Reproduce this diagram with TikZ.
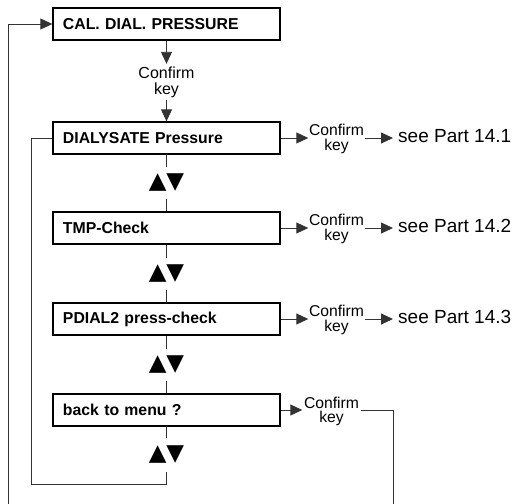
\documentclass[tikz,border=0pt]{standalone}
\usepackage{fontspec}
\setmainfont{Liberation Sans}
\newfontfamily\symfont{DejaVu Sans}
\usetikzlibrary{arrows.meta}
\begin{document}
\begin{tikzpicture}[x=1pt,y=-1pt,
  box/.style={draw=black, line width=1.3pt, minimum height=32pt, text width=207pt,
    inner xsep=10pt, align=left, font=\fontsize{15.8}{18}\selectfont\bfseries},
  conn/.style={draw=black!80, line width=0.9pt},
  arr/.style={conn, -{Triangle[length=12pt,width=11pt]}},
  ck/.style={align=center, inner xsep=0.5pt, inner ysep=0pt, font=\fontsize{15.7}{14.5}\selectfont},
  seep/.style={anchor=base west, inner xsep=5pt, inner ysep=0pt, font=\fontsize{19}{22}\selectfont},
  ud/.style={minimum height=32pt, inner sep=0pt, font=\symfont\fontsize{23}{26}\selectfont}]
\useasboundingbox (0,0) rectangle (515,504);

% boxes
\node[box] (b1) at (166.5,24) {CAL. DIAL. PRESSURE};
\node[box] (b2) at (166.5,138) {DIALYSATE Pressure};
\node[box] (b3) at (166.5,228) {TMP-Check};
\node[box] (b4) at (166.5,319) {PDIAL2 press-check};
\node[box] (b5) at (166.5,410) {back to menu ?};

% up/down symbols
\node[ud] (ud1) at (166.5,183) {▲▼};
\node[ud] (ud2) at (166.5,274) {▲▼};
\node[ud] (ud3) at (166.5,365) {▲▼};
\node[ud, minimum height=34pt] (ud4) at (166.5,455) {▲▼};

% confirm keys
\node[ck, inner ysep=2.5pt, font=\fontsize{16}{16}\selectfont] (c0) at (166.5,82) {Confirm\\key};
\node[ck] (c2) at (336.5,139) {Confirm\\key};
\node[ck] (c3) at (336.5,229) {Confirm\\key};
\node[ck] (c4) at (336.5,320) {Confirm\\key};
\node[ck, inner xsep=1.5pt] (c5) at (331.5,411.5) {Confirm\\key};

% see part
\node[seep] (s2) at (393,142.5) {see Part 14.1};
\node[seep] (s3) at (393,232.5) {see Part 14.2};
\node[seep] (s4) at (393,323.5) {see Part 14.3};

% free ends
\coordinate (lb) at (8,504);
\coordinate (ib) at (31,484);
\coordinate (rb) at (393,504);

% top
\draw[arr] (b1.south) -- (c0.north);
\draw[arr] (c0.south) -- (b2.north);

% central column
\draw[conn] (b2.south) -- (ud1.north);
\draw[conn] (ud1.south) -- (b3.north);
\draw[conn] (b3.south) -- (ud2.north);
\draw[conn] (ud2.south) -- (b4.north);
\draw[conn] (b4.south) -- (ud3.north);
\draw[conn] (ud3.south) -- (b5.north);
\draw[conn] (b5.south) -- (ud4.north);

% inner loop back to DIALYSATE
\draw[conn] (ud4.south) |- (ib) |- (b2.west);

% outer loop to CAL. DIAL. PRESSURE
\draw[arr] (lb) |- (b1.west);

% right branches
\draw[arr] (b2.east) -- (b2.east -| c2.west);
\draw[arr] (b2.east -| c2.east) -- (b2.east -| s2.west);
\draw[arr] (b3.east) -- (b3.east -| c3.west);
\draw[arr] (b3.east -| c3.east) -- (b3.east -| s3.west);
\draw[arr] (b4.east) -- (b4.east -| c4.west);
\draw[arr] (b4.east -| c4.east) -- (b4.east -| s4.west);
\draw[arr] (b5.east) -- (b5.east -| c5.west);
\draw[conn] (b5.east -| c5.east) -| (rb);
\end{tikzpicture}
\end{document}
